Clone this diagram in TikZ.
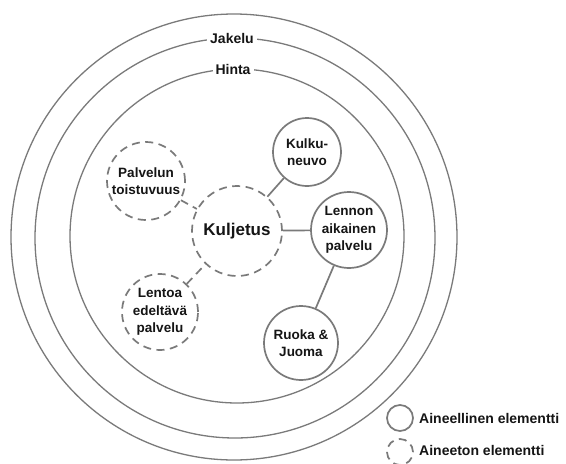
\documentclass[tikz,border=0pt]{standalone}
\usepackage{fontspec}
\setmainfont{Liberation Sans}
\begin{document}
\begin{tikzpicture}[x=1pt,y=-1pt,
  ring/.style={circle, draw=linegray, line width=1.3pt, inner sep=0pt},
  solidc/.style={circle, draw=linegray, line width=1.7pt, inner sep=0pt, text=txt, align=center, font=\bfseries\fontsize{13.5}{17.5}\selectfont},
  dashc/.style={solidc, dash pattern=on 8pt off 5.5pt},
  lbl/.style={fill=white, text=txt, font=\bfseries\fontsize{14}{16}\selectfont, inner sep=3pt},
  conn/.style={draw=linegray, line width=1.7pt},
  dconn/.style={conn, dash pattern=on 8pt off 5.5pt},
  legt/.style={anchor=west, text=txt, font=\bfseries\fontsize{14}{16}\selectfont, inner sep=0pt}]
\definecolor{linegray}{HTML}{7A7A7A}
\definecolor{txt}{HTML}{151515}
\useasboundingbox[fill=white] (0,0) rectangle (566,464);
% concentric rings
\node[ring, minimum size=446pt] (outer) at (234,237) {};
\node[ring, minimum size=400pt] (middle) at (235,238) {};
\node[ring, minimum size=334pt] (inner) at (237,236) {};
\node[lbl] (jakelu) at (232,38) {Jakelu};
\node[lbl] (hinta) at (233,69) {Hinta};
% elements
\node[dashc, minimum size=90pt, font=\bfseries\fontsize{17}{19}\selectfont] (kulj) at (237,231) {Kuljetus};
\node[dashc, minimum size=78pt] (palv) at (146,181) {Palvelun\\toistuvuus};
\node[dashc, minimum size=76pt] (lent) at (160,312) {Lentoa\\edeltävä\\palvelu};
\node[solidc, minimum size=68pt] (kulku) at (307,152) {Kulku-\\neuvo};
\node[solidc, minimum size=76pt] (lenn) at (349,230) {Lennon\\aikainen\\palvelu};
\node[solidc, minimum size=74pt] (ruoka) at (301,343) {Ruoka \&\\Juoma};
% connectors
\draw[conn] (kulku) -- (kulj);
\draw[conn] (lenn) -- (kulj);
\draw[conn] (lenn) -- (ruoka);
\draw[dconn] (palv) -- (kulj);
\draw[dconn] (lent) -- (kulj);
% legend
\node[solidc, minimum size=26pt] (leg1) at (400,418) {};
\node[dashc, minimum size=26pt] (leg2) at (400,452) {};
\node[legt] (leg1t) at (419,418) {Aineellinen elementti};
\node[legt] (leg2t) at (419,450) {Aineeton elementti};
\end{tikzpicture}
\end{document}
